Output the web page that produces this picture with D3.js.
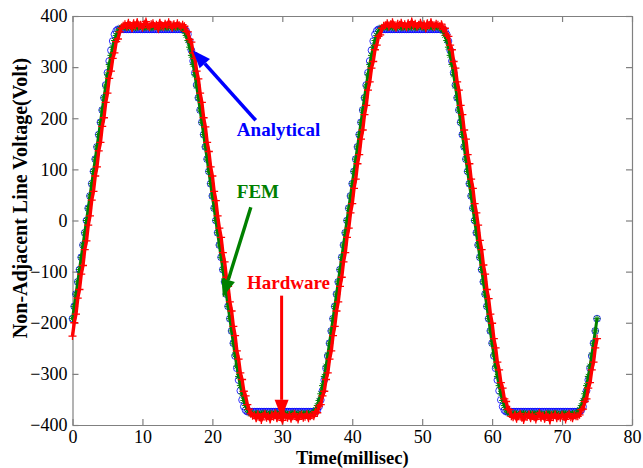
<!DOCTYPE html>
<html>
<head>
<meta charset="utf-8">
<script src="https://cdn.jsdelivr.net/npm/d3@7"></script>
<style>
  body { margin: 0; background: #fff; }
  svg text { font-family: 'Liberation Serif', 'Times New Roman', serif; }
</style>
</head>
<body>
<svg id="chart" width="643" height="468"></svg>
<script>
// tick labels
const xTicks = [0, 10, 20, 30, 40, 50, 60, 70, 80]
const yTicks = [-400, -300, -200, -100, 0, 100, 200, 300, 400]

// all three traces are sampled every 0.25 ms, starting at t = 0
const timeStepMs = 0.25

// Analytical (blue circles), volts
const analytical = [
  -192, -168, -144, -120, -96, -72, -48, -24, 0, 24, 48, 72, 96, 120, 144, 168, 192, 216, 240, 265, 289, 312, 333, 351, 364, 371, 374, 374, 374,
  374, 374, 374, 374, 374, 374, 374, 374, 374, 374, 374, 374, 374, 374, 374, 374, 374, 374, 374, 374, 374, 374, 374, 374, 374, 374, 374, 374, 374, 374, 374, 374, 374,
  374, 374, 374, 371, 364, 351, 333, 312, 289, 265, 240, 216, 192, 168, 144, 120, 96, 72, 48, 24, 0, -24, -48, -72, -96, -120, -144, -168, -192, -216, -240, -265, -289, -312, -333, -351, -364, -371, -374, -374, -374,
  -374, -374, -374, -374, -374, -374, -374, -374, -374, -374, -374, -374, -374, -374, -374, -374, -374, -374, -374, -374, -374, -374, -374, -374, -374, -374, -374, -374, -374, -374, -374, -374, -374, -374,
  -374, -374, -374, -371, -364, -351, -333, -312, -289, -265, -240, -216, -192, -168, -144, -120, -96, -72, -48, -24, 0, 24, 48, 72, 96, 120, 144, 168, 192, 216, 240, 265, 289, 312, 333, 351, 364, 371, 374, 374, 374,
  374, 374, 374, 374, 374, 374, 374, 374, 374, 374, 374, 374, 374, 374, 374, 374, 374, 374, 374, 374, 374, 374, 374, 374, 374, 374, 374, 374, 374, 374, 374, 374,
  374, 374, 374, 371, 364, 351, 333, 312, 289, 265, 240, 216, 192, 168, 144, 120, 96, 72, 48, 24, 0, -24, -48, -72, -96, -120, -144, -168, -192, -216, -240, -265, -289, -312, -333, -351, -364, -371, -374, -374, -374,
  -374, -374, -374, -374, -374, -374, -374, -374, -374, -374, -374, -374, -374, -374, -374, -374, -374, -374, -374, -374, -374, -374, -374, -374, -374, -374, -374, -374, -374, -374, -374, -374, -374, -374, -374, -374, -374,
  -374, -374, -374, -371, -364, -351, -333, -312, -289, -265, -240, -216, -192
]

// FEM (green asterisks), volts
const fem = [
  -192, -168, -144, -120, -96, -72, -48, -24, 0, 24, 48, 72, 96, 120, 144, 168, 192, 216, 240, 263, 285, 305, 323, 339, 352, 362, 370, 375, 378,
  379, 378, 377, 378, 380, 379, 378, 377, 378, 379, 380, 378, 377, 378, 379, 378, 377, 378, 380, 379, 378, 377, 378, 379, 378, 377, 378, 379, 380, 378, 377, 378, 379,
  378, 375, 370, 362, 352, 339, 323, 305, 285, 263, 240, 216, 192, 168, 144, 120, 96, 72, 48, 24, 0, -24, -48, -72, -96, -120, -144, -168, -192, -216, -240, -263, -285, -305, -323, -339, -352, -362, -370, -375, -378,
  -378, -379, -377, -378, -380, -378, -377, -379, -378, -380, -377, -378, -379, -378, -377, -380, -378, -379, -377, -378, -379, -380, -378, -377, -378, -379, -378, -380, -377, -378, -379, -378, -377, -379,
  -378, -375, -370, -362, -352, -339, -323, -305, -285, -263, -240, -216, -192, -168, -144, -120, -96, -72, -48, -24, 0, 24, 48, 72, 96, 120, 144, 168, 192, 216, 240, 263, 285, 305, 323, 339, 352, 362, 370, 375, 378,
  378, 379, 377, 378, 380, 378, 377, 379, 378, 380, 377, 378, 379, 378, 377, 380, 378, 379, 377, 378, 379, 380, 378, 377, 378, 379, 378, 380, 377, 378, 379, 378,
  378, 375, 370, 362, 352, 339, 323, 305, 285, 263, 240, 216, 192, 168, 144, 120, 96, 72, 48, 24, 0, -24, -48, -72, -96, -120, -144, -168, -192, -216, -240, -263, -285, -305, -323, -339, -352, -362, -370, -375, -378,
  -379, -378, -377, -378, -380, -379, -378, -377, -378, -379, -380, -378, -377, -378, -379, -378, -377, -378, -380, -379, -378, -377, -378, -379, -378, -377, -378, -379, -380, -378, -377, -378, -379, -378, -380, -377, -378,
  -378, -375, -370, -362, -352, -339, -323, -305, -285, -263, -240, -216, -192
]

// Hardware measurement (red plus signs), volts - lags the FEM trace slightly
const hardware = [
  -226, -200, -183, -152, -135, -105, -88, -57, -40, -9, 9, 40, 57, 87, 105, 136, 153, 184, 201, 231, 249, 278, 292, 317, 328, 350, 355, 369, 376,
  381, 384, 379, 387, 382, 376, 386, 381, 388, 380, 383, 377, 385, 389, 381, 378, 384, 386, 380, 383, 375, 387, 382, 379, 385, 381, 388, 383, 377, 384, 380, 386, 382,
  379, 383, 380, 370, 369, 354, 349, 328, 317, 292, 277, 249, 231, 201, 183, 153, 135, 105, 87, 57, 39, 9, -15, -33, -63, -81, -111, -129, -159, -177, -207, -225, -255, -271, -298, -311, -334, -343, -360, -369, -378,
  -382, -381, -387, -379, -385, -390, -382, -378, -386, -383, -389, -380, -384, -377, -387, -382, -385, -391, -379, -384, -386, -381, -388, -383, -378, -385, -389, -382, -380, -386, -384, -379, -387, -383,
  -381, -383, -374, -376, -363, -360, -343, -334, -311, -298, -271, -255, -225, -207, -177, -159, -129, -111, -81, -63, -33, -15, 15, 33, 63, 81, 111, 129, 159, 177, 207, 225, 255, 271, 298, 311, 334, 343, 360, 363, 376,
  381, 382, 386, 379, 384, 388, 381, 377, 385, 383, 387, 380, 384, 378, 386, 382, 389, 381, 385, 379, 383, 387, 380, 384, 376, 386, 382, 388, 381, 379, 385, 383,
  380, 384, 374, 376, 363, 360, 343, 334, 311, 298, 271, 255, 225, 207, 177, 159, 129, 111, 81, 63, 33, 15, -9, -39, -57, -87, -105, -135, -153, -183, -201, -231, -249, -277, -292, -317, -328, -349, -354, -369, -370,
  -383, -385, -380, -388, -383, -378, -386, -390, -382, -384, -379, -387, -381, -385, -389, -383, -377, -386, -382, -388, -380, -384, -391, -381, -385, -379, -387, -383, -386, -380, -384, -389, -382, -378, -385, -387, -381,
  -383, -383, -380, -370, -369, -354, -349, -328, -317, -292, -277, -249, -231
]

// callouts, placed in data units (ms, V)
const callouts = [
  { label: 'Analytical', color: '#0000ff', text: [23.5, 165], tail: [26.2, 196], tip: [17.2, 333], lw: 3.6 },
  { label: 'FEM', color: '#008000', text: [23.5, 44], tail: [25.5, 26], tip: [21.5, -150], lw: 3.4 },
  { label: 'Hardware', color: '#ff0000', text: [24.95, -134], tail: [29.9, -147], tip: [29.9, -386], lw: 3 }
]

const width = 643
const height = 468
const margin = { left: 72.5, right: 11, top: 16, bottom: 43 }
const axisColor = '#808080'

const svg = d3.select('#chart')

const x = d3.scaleLinear().domain([0, 80]).range([margin.left, width - margin.right])
const y = d3.scaleLinear().domain([-400, 400]).range([height - margin.bottom, margin.top])

const toPoints = values => values.map((v, i) => ({ t: i * timeStepMs, v: v }))
const trace = d3.line().x(d => x(d.t)).y(d => y(d.v))

// axes: MATLAB-style box with inward ticks on every side
function styleAxis (g, showText) {
  g.select('.domain').attr('stroke', axisColor).attr('stroke-width', 1.2)
  g.selectAll('.tick line').attr('stroke', axisColor).attr('stroke-width', 1.2)
  g.selectAll('.tick text')
    .attr('fill', '#000')
    .style('font-size', '18px')
    .style('font-family', "'Liberation Serif', serif")
  if (!showText) g.selectAll('.tick text').remove()
}

svg.append('g')
  .attr('transform', 'translate(0,' + y(-400) + ')')
  .call(d3.axisBottom(x).tickValues(xTicks).tickSizeInner(-6).tickSizeOuter(0).tickPadding(5))
  .call(g => styleAxis(g, true))

svg.append('g')
  .attr('transform', 'translate(0,' + y(400) + ')')
  .call(d3.axisTop(x).tickValues(xTicks).tickSizeInner(-6).tickSizeOuter(0))
  .call(g => styleAxis(g, false))

svg.append('g')
  .attr('transform', 'translate(' + x(0) + ',0)')
  .call(d3.axisLeft(y).tickValues(yTicks).tickSizeInner(-6).tickSizeOuter(0).tickPadding(5))
  .call(g => styleAxis(g, true))

svg.append('g')
  .attr('transform', 'translate(' + x(80) + ',0)')
  .call(d3.axisRight(y).tickValues(yTicks).tickSizeInner(-6).tickSizeOuter(0))
  .call(g => styleAxis(g, false))

// series markers (dense sampling in the original, so the traces are joined too)
const plot = svg.append('g')

plot.append('g')
  .selectAll('circle')
  .data(toPoints(analytical))
  .join('circle')
  .attr('cx', d => x(d.t))
  .attr('cy', d => y(d.v))
  .attr('r', 3.4)
  .attr('fill', 'none')
  .attr('stroke', '#0000ff')
  .attr('stroke-width', 0.8)

plot.append('path')
  .datum(toPoints(fem))
  .attr('d', trace)
  .attr('fill', 'none')
  .attr('stroke', '#008000')
  .attr('stroke-width', 3)

const asterisk = 'M-3.5,0H3.5M0,-3.5V3.5M-2.5,-2.5L2.5,2.5M-2.5,2.5L2.5,-2.5'
plot.append('g')
  .selectAll('path')
  .data(toPoints(fem))
  .join('path')
  .attr('transform', d => 'translate(' + x(d.t) + ',' + y(d.v) + ')')
  .attr('d', asterisk)
  .attr('fill', 'none')
  .attr('stroke', '#008000')
  .attr('stroke-width', 1)

plot.append('path')
  .datum(toPoints(hardware))
  .attr('d', trace)
  .attr('fill', 'none')
  .attr('stroke', '#ff0000')
  .attr('stroke-width', 3.4)

const plus = 'M-4,0H4M0,-4V4'
plot.append('g')
  .selectAll('path')
  .data(toPoints(hardware))
  .join('path')
  .attr('transform', d => 'translate(' + x(d.t) + ',' + y(d.v) + ')')
  .attr('d', plus)
  .attr('fill', 'none')
  .attr('stroke', '#ff0000')
  .attr('stroke-width', 1.3)

// callout arrows and labels
const notes = svg.append('g')
callouts.forEach(c => {
  const x0 = x(c.tail[0])
  const y0 = y(c.tail[1])
  const x1 = x(c.tip[0])
  const y1 = y(c.tip[1])
  const ang = Math.atan2(y1 - y0, x1 - x0)
  const headLen = 18
  const headHalf = 7
  const bx = x1 - headLen * Math.cos(ang)
  const by = y1 - headLen * Math.sin(ang)
  notes.append('line')
    .attr('x1', x0).attr('y1', y0)
    .attr('x2', bx).attr('y2', by)
    .attr('stroke', c.color)
    .attr('stroke-width', c.lw)
  notes.append('path')
    .attr('d', 'M' + x1 + ',' + y1 +
      'L' + (bx + headHalf * Math.sin(ang)) + ',' + (by - headHalf * Math.cos(ang)) +
      'L' + (bx - headHalf * Math.sin(ang)) + ',' + (by + headHalf * Math.cos(ang)) + 'Z')
    .attr('fill', c.color)
  notes.append('text')
    .attr('x', x(c.text[0]))
    .attr('y', y(c.text[1]))
    .attr('fill', c.color)
    .style('font-size', '19px')
    .style('font-weight', 'bold')
    .text(c.label)
})

// axis titles
svg.append('text')
  .attr('x', (x(0) + x(80)) / 2)
  .attr('y', 463.5)
  .attr('text-anchor', 'middle')
  .style('font-size', '18.5px')
  .style('font-weight', 'bold')
  .text('Time(millisec)')

svg.append('text')
  .attr('transform', 'translate(27,198) rotate(-90)')
  .attr('text-anchor', 'middle')
  .style('font-size', '20px')
  .style('font-weight', 'bold')
  .text('Non-Adjacent Line Voltage(Volt)')
</script>
</body>
</html>
